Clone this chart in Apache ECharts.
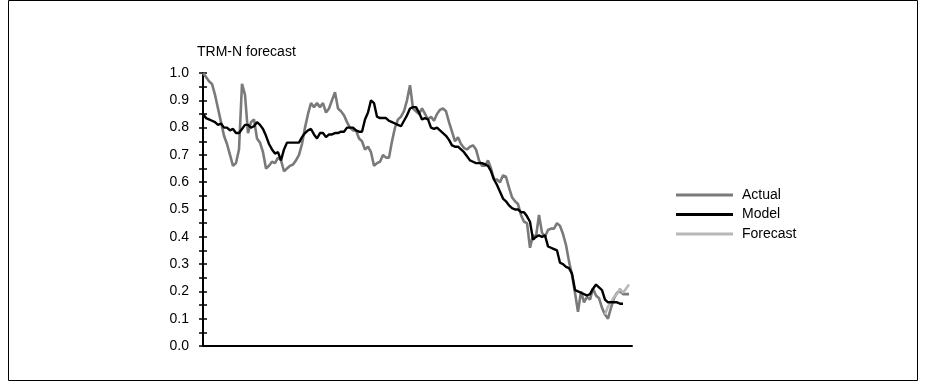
<!DOCTYPE html>
<html>
<head>
<meta charset="utf-8">
<script src="https://cdn.jsdelivr.net/npm/echarts@6/dist/echarts.min.js"></script>
<style>
  html, body { margin: 0; padding: 0; background: #fff; }
  #chart { width: 926px; height: 387px; }
</style>
</head>
<body>
<div id="chart"></div>
<script>
// Monthly TRM-N index: observed values, fitted model and forecast tail
var actual = [
  1.00, 0.985, 0.97, 0.96, 0.92, 0.87, 0.82, 0.77, 0.74, 0.70,
  0.66, 0.67, 0.72, 0.96, 0.92, 0.78, 0.82, 0.83, 0.76, 0.745,
  0.71, 0.65, 0.66, 0.675, 0.67, 0.69, 0.68, 0.64, 0.65, 0.66,
  0.665, 0.68, 0.70, 0.74, 0.80, 0.85, 0.89, 0.875, 0.89, 0.875,
  0.89, 0.855, 0.87, 0.90, 0.93, 0.87, 0.86, 0.845, 0.82, 0.80,
  0.79, 0.79, 0.76, 0.75, 0.72, 0.73, 0.71, 0.66, 0.67, 0.675,
  0.70, 0.69, 0.69, 0.75, 0.80, 0.83, 0.84, 0.86, 0.90, 0.955,
  0.87, 0.86, 0.85, 0.87, 0.85, 0.83, 0.84, 0.825, 0.85, 0.865,
  0.87, 0.86, 0.82, 0.785, 0.75, 0.765, 0.74, 0.725, 0.72, 0.73,
  0.735, 0.72, 0.68, 0.66, 0.66, 0.68, 0.65, 0.61, 0.61, 0.60,
  0.625, 0.62, 0.58, 0.545, 0.53, 0.52, 0.48, 0.455, 0.45, 0.36,
  0.405, 0.40, 0.48, 0.415, 0.40, 0.425, 0.43, 0.43, 0.45, 0.44,
  0.41, 0.37, 0.31, 0.26, 0.195, 0.125, 0.20, 0.16, 0.18, 0.17,
  0.21, 0.185, 0.175, 0.14, 0.115, 0.10, 0.14, 0.175, 0.195, 0.20,
  0.19, 0.19, 0.19
];

var model = [
  0.85, 0.835, 0.83, 0.825, 0.82, 0.81, 0.815, 0.80, 0.80, 0.79,
  0.795, 0.78, 0.78, 0.795, 0.81, 0.81, 0.80, 0.805, 0.82, 0.81,
  0.795, 0.77, 0.74, 0.72, 0.705, 0.71, 0.68, 0.72, 0.745, 0.745,
  0.745, 0.745, 0.745, 0.765, 0.78, 0.79, 0.795, 0.775, 0.76, 0.78,
  0.78, 0.765, 0.775, 0.775, 0.78, 0.78, 0.785, 0.785, 0.80, 0.80,
  0.80, 0.79, 0.785, 0.785, 0.83, 0.855, 0.90, 0.89, 0.84, 0.835,
  0.835, 0.835, 0.825, 0.82, 0.815, 0.81, 0.805, 0.825, 0.845, 0.87,
  0.875, 0.875, 0.855, 0.83, 0.835, 0.83, 0.80, 0.795, 0.80, 0.79,
  0.78, 0.77, 0.755, 0.735, 0.73, 0.73, 0.72, 0.71, 0.695, 0.68,
  0.675, 0.67, 0.67, 0.67, 0.665, 0.66, 0.64, 0.61, 0.59, 0.565,
  0.54, 0.53, 0.515, 0.505, 0.50, 0.50, 0.49, 0.49, 0.475, 0.455,
  0.39, 0.40, 0.405, 0.40, 0.405, 0.365, 0.36, 0.355, 0.35, 0.305,
  0.30, 0.29, 0.285, 0.265, 0.205, 0.20, 0.195, 0.19, 0.185, 0.19,
  0.21, 0.225, 0.215, 0.205, 0.17, 0.16, 0.16, 0.16, 0.16, 0.155,
  0.155
];

// Forecast covers the last periods only, starting at this index
var forecastStart = 134;
var forecast = [0.115, 0.145, 0.16, 0.18, 0.19, 0.21, 0.195, 0.21, 0.225];

var seriesNames = ['Actual', 'Model', 'Forecast'];
var yTicks = [0.0, 0.1, 0.2, 0.3, 0.4, 0.5, 0.6, 0.7, 0.8, 0.9, 1.0];
var yTitle = 'TRM-N forecast';

function indexed(values, start) {
  return values.map(function (v, i) { return [start + i, v]; });
}

var font = '"Liberation Sans", Arial, sans-serif';
var chart = echarts.init(document.getElementById('chart'), null, { renderer: 'canvas' });

chart.setOption({
  animation: false,
  backgroundColor: '#ffffff',
  graphic: [
    {
      type: 'rect',
      shape: { x: 8.5, y: 0.5, width: 909, height: 380 },
      style: { fill: 'none', stroke: '#000', lineWidth: 1 },
      silent: true
    },
    {
      type: 'text',
      left: 197, top: 45,
      style: { text: yTitle, font: '14px ' + font, fill: '#000' }
    }
  ],
  grid: { left: 203, top: 73, width: 429, height: 273 },
  legend: {
    orient: 'vertical',
    left: 676, top: 188, padding: 0,
    itemWidth: 57, itemHeight: 3, itemGap: 5.5,
    icon: 'rect',
    data: seriesNames,
    textStyle: { fontFamily: font, fontSize: 14, color: '#000', padding: [0, 0, 0, 4] }
  },
  xAxis: {
    type: 'value', min: 0, max: 143,
    axisLine: { show: true, onZero: false, lineStyle: { color: '#000', width: 2 } },
    axisTick: { show: false }, axisLabel: { show: false }, splitLine: { show: false }
  },
  yAxis: [
    {
      type: 'value', min: 0, max: 1, interval: 0.1,
      axisLine: { show: true, lineStyle: { color: '#000', width: 2 } },
      axisTick: { show: true, length: 4, lineStyle: { color: '#000', width: 1.5 } },
      minorTick: { show: true, splitNumber: 2, length: 4, lineStyle: { color: '#000', width: 1.5 } },
      axisLabel: {
        fontFamily: font, fontSize: 14, color: '#000', margin: 14,
        formatter: function (v) {
          var t = yTicks.find(function (k) { return Math.abs(k - v) < 1e-6; });
          return (t === undefined ? v : t).toFixed(1);
        }
      },
      splitLine: { show: false }
    },
    {
      type: 'value', min: 0, max: 1, interval: 0.1, position: 'left',
      axisLine: { show: false },
      axisTick: { show: true, inside: true, length: 4, lineStyle: { color: '#000', width: 1.5 } },
      minorTick: { show: true, splitNumber: 2, length: 4, lineStyle: { color: '#000', width: 1.5 } },
      axisLabel: { show: false },
      splitLine: { show: false }
    }
  ],
  series: [
    {
      name: seriesNames[0], type: 'line', data: indexed(actual, 0),
      showSymbol: false, z: 2,
      lineStyle: { color: '#7a7a7a', width: 2.6 }, itemStyle: { color: '#7a7a7a' }
    },
    {
      name: seriesNames[2], type: 'line', data: indexed(forecast, forecastStart),
      showSymbol: false, z: 3,
      lineStyle: { color: '#b8b8b8', width: 2.6 }, itemStyle: { color: '#b8b8b8' }
    },
    {
      name: seriesNames[1], type: 'line', data: indexed(model, 0),
      showSymbol: false, z: 4,
      lineStyle: { color: '#000000', width: 2.4 }, itemStyle: { color: '#000000' }
    }
  ]
});
</script>
</body>
</html>
